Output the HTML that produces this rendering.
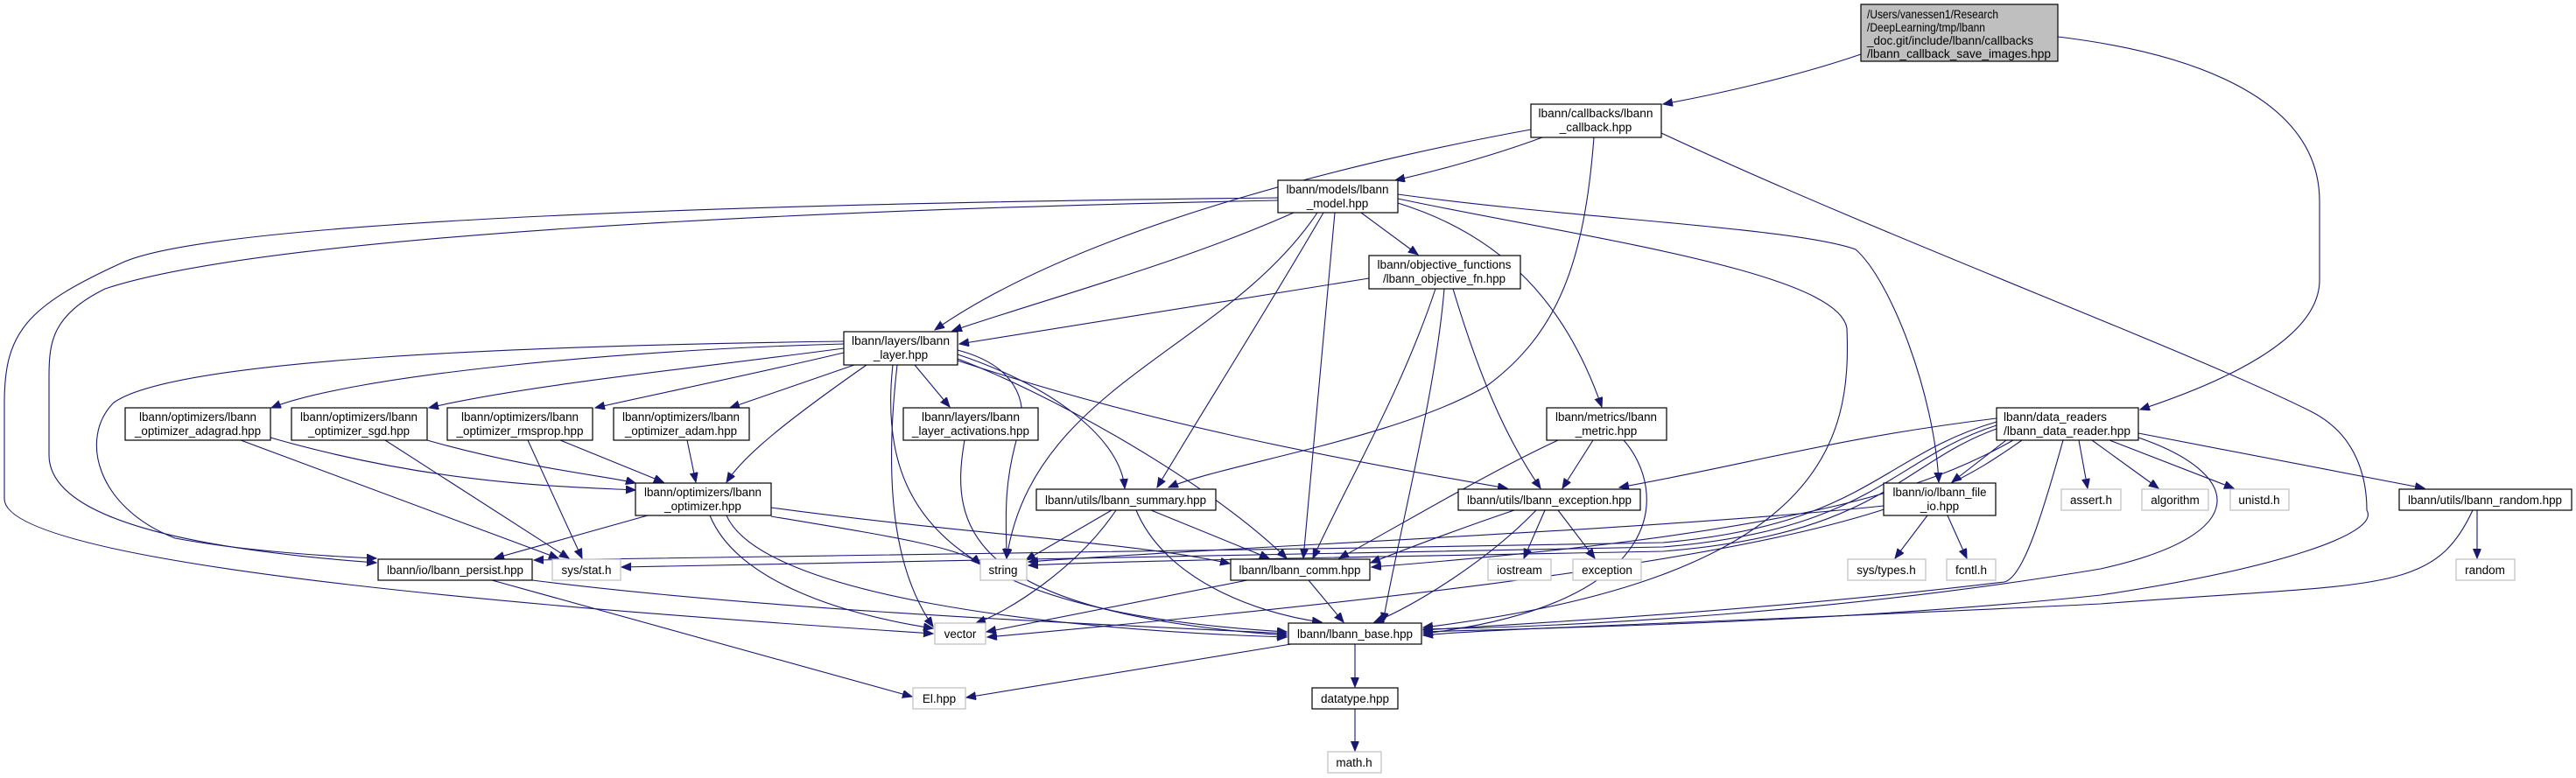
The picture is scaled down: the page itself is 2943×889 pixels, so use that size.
<!DOCTYPE html>
<html><head><meta charset="utf-8"><style>
html,body{margin:0;padding:0;background:#fff;}
svg{display:block;}
text{font-family:"Liberation Sans",Arial,sans-serif;font-size:13.5px;fill:#000;}
.n{fill:#fff;stroke:#000;stroke-width:1.2;}
.g{fill:#fff;stroke:#bfbfbf;stroke-width:1.2;}
.e{fill:none;stroke:#191970;stroke-width:1.1;marker-end:url(#a);}
</style></head><body>
<svg width="2943" height="889" viewBox="0 0 2943 889" xmlns="http://www.w3.org/2000/svg">
<defs><marker id="a" markerUnits="userSpaceOnUse" markerWidth="12" markerHeight="10" refX="11" refY="4.5" orient="auto"><path d="M0,0 L11,4.5 L0,9 Z" fill="#191970" stroke="#191970"/></marker></defs>
<g>
<path class="e" d="M2126,62 C2050,88 1960,108 1900,119"/>
<path class="e" d="M2351,42 C2500,60 2650,110 2650,230 L2650,320 C2650,390 2530,440 2445,468"/>
<path class="e" d="M1762,157 C1700,180 1630,198 1594,206"/>
<path class="e" d="M1749,148 C1600,175 1250,250 1068,377"/>
<path class="e" d="M1821,157 C1810,300 1780,380 1700,440 C1600,500 1400,530 1335,557"/>
<path class="e" d="M1898,152 C2150,270 2500,400 2640,470 C2700,500 2704,560 2704,583 C2720,610 2600,650 2400,680 C2100,712 1750,718 1626,722"/>
<path class="e" d="M1478,243 C1350,300 1200,340 1088,378"/>
<path class="e" d="M1555,243 L1620,291"/>
<path class="e" d="M1597,232 C1720,270 1790,350 1830,465"/>
<path class="e" d="M1597,222 C1800,250 2050,260 2120,285 C2160,320 2210,450 2215,551"/>
<path class="e" d="M1597,227 C1800,270 2100,310 2110,375 C2115,500 2090,660 1626,717"/>
<path class="e" d="M1525,243 L1489,638"/>
<path class="e" d="M1512,243 C1450,350 1380,460 1322,557"/>
<path class="e" d="M1505,243 C1400,400 1180,440 1150,638"/>
<path class="e" d="M1460,226 C900,232 250,250 140,300 C30,350 5,380 5,460 L5,570 C5,650 700,700 1066,724"/>
<path class="e" d="M1460,229 C900,240 300,270 120,330 C60,360 56,390 56,430 L56,520 C56,600 250,630 430,643"/>
<path class="e" d="M1564,318 L1096,393"/>
<path class="e" d="M1640,330 C1600,450 1540,550 1500,638"/>
<path class="e" d="M1650,330 C1640,450 1600,600 1580,711"/>
<path class="e" d="M1660,330 C1690,430 1720,500 1760,558"/>
<path class="e" d="M964,393 C700,400 400,430 310,466"/>
<path class="e" d="M964,398 C800,420 600,440 490,466"/>
<path class="e" d="M964,403 C850,430 750,450 680,466"/>
<path class="e" d="M976,417 L834,466"/>
<path class="e" d="M990,417 C900,480 850,520 830,551"/>
<path class="e" d="M964,390 C600,395 200,410 130,460 C90,500 110,580 200,615 C280,630 380,636 430,638"/>
<path class="e" d="M1045,417 L1085,465"/>
<path class="e" d="M1094,405 C1200,440 1280,500 1285,558"/>
<path class="e" d="M1094,400 C1170,420 1175,470 1162,500 C1145,560 1150,600 1150,638"/>
<path class="e" d="M1025,417 C1010,550 1020,650 1066,716"/>
<path class="e" d="M1020,417 C1000,600 1100,700 1470,722"/>
<path class="e" d="M1094,410 C1200,450 1380,550 1470,638"/>
<path class="e" d="M1094,412 C1300,480 1500,520 1722,558"/>
<path class="e" d="M309,500 C500,555 650,556 726,560"/>
<path class="e" d="M275,503 L638,638"/>
<path class="e" d="M488,503 C600,535 700,545 726,552"/>
<path class="e" d="M440,503 L650,638"/>
<path class="e" d="M640,503 L758,551"/>
<path class="e" d="M603,503 L665,638"/>
<path class="e" d="M785,503 L795,551"/>
<path class="e" d="M740,589 L565,638"/>
<path class="e" d="M881,580 C1100,610 1300,620 1405,644"/>
<path class="e" d="M881,590 C1000,610 1100,625 1120,645"/>
<path class="e" d="M811,589 C840,660 950,700 1066,718"/>
<path class="e" d="M830,589 C870,680 1200,720 1470,728"/>
<path class="e" d="M608,663 C900,700 1300,715 1470,724"/>
<path class="e" d="M562,663 L1042,796"/>
<path class="e" d="M1102,503 C1085,600 1100,700 1470,726"/>
<path class="e" d="M1270,583 L1172,640"/>
<path class="e" d="M1315,583 L1450,638"/>
<path class="e" d="M1275,583 C1230,650 1150,700 1115,712"/>
<path class="e" d="M1298,583 C1330,660 1430,700 1510,711"/>
<path class="e" d="M1780,503 C1700,540 1600,600 1530,638"/>
<path class="e" d="M1820,503 L1785,558"/>
<path class="e" d="M1855,503 C1905,560 1910,690 1626,724"/>
<path class="e" d="M1730,583 C1650,610 1600,630 1566,643"/>
<path class="e" d="M1765,583 L1741,638"/>
<path class="e" d="M1780,583 L1822,638"/>
<path class="e" d="M1755,583 C1700,640 1620,690 1570,711"/>
<path class="e" d="M1425,663 L1127,722"/>
<path class="e" d="M1495,663 L1535,711"/>
<path class="e" d="M1475,736 L1104,797"/>
<path class="e" d="M1548,736 L1548,785"/>
<path class="e" d="M1548,810 L1548,858"/>
<path class="e" d="M2281,478 C2100,500 2000,530 1850,557"/>
<path class="e" d="M2292,503 L2230,551"/>
<path class="e" d="M2375,503 L2385,558"/>
<path class="e" d="M2390,503 L2466,558"/>
<path class="e" d="M2410,503 L2552,558"/>
<path class="e" d="M2443,495 L2770,558"/>
<path class="e" d="M2281,482 C2150,520 2130,600 1900,620 C1400,630 800,636 610,640"/>
<path class="e" d="M2281,486 C2160,525 2140,605 1900,625 C1400,636 900,644 710,648"/>
<path class="e" d="M2281,490 C2170,530 2150,610 1900,630 C1600,636 1300,640 1175,646"/>
<path class="e" d="M2300,503 C2200,560 2050,610 1567,648"/>
<path class="e" d="M2310,503 C2200,580 2100,640 1128,728"/>
<path class="e" d="M2357,503 C2330,600 2310,660 2290,665 C2000,700 1700,715 1626,720"/>
<path class="e" d="M2443,500 C2560,540 2580,610 2400,650 C2100,700 1800,716 1626,719"/>
<path class="e" d="M2202,589 L2165,638"/>
<path class="e" d="M2225,589 L2247,638"/>
<path class="e" d="M2152,578 C1900,605 1400,625 1175,642"/>
<path class="e" d="M2830,583 L2830,638"/>
<path class="e" d="M2825,583 C2780,680 2720,665 2400,690 C2000,710 1700,718 1626,726"/>
</g>
<g>
<rect x="2126" y="5" width="225" height="65" fill="#bfbfbf" stroke="#000" stroke-width="1.2"/>
<text x="2133" y="21" textLength="150" lengthAdjust="spacingAndGlyphs">/Users/vanessen1/Research</text>
<text x="2133" y="36" textLength="135" lengthAdjust="spacingAndGlyphs">/DeepLearning/tmp/lbann</text>
<text x="2133" y="51" textLength="190" lengthAdjust="spacingAndGlyphs">_doc.git/include/lbann/callbacks</text>
<text x="2133" y="66" textLength="210" lengthAdjust="spacingAndGlyphs">/lbann_callback_save_images.hpp</text>

<rect class="n" x="1749" y="119" width="149" height="38"/>
<text x="1823" y="134" text-anchor="middle" textLength="131" lengthAdjust="spacingAndGlyphs">lbann/callbacks/lbann</text>
<text x="1823" y="150" text-anchor="middle">_callback.hpp</text>

<rect class="n" x="1460" y="206" width="137" height="37"/>
<text x="1528" y="221" text-anchor="middle" textLength="117" lengthAdjust="spacingAndGlyphs">lbann/models/lbann</text>
<text x="1528" y="237" text-anchor="middle">_model.hpp</text>

<rect class="n" x="1564" y="292" width="173" height="38"/>
<text x="1650" y="307" text-anchor="middle" textLength="153" lengthAdjust="spacingAndGlyphs">lbann/objective_functions</text>
<text x="1650" y="323" text-anchor="middle" textLength="140" lengthAdjust="spacingAndGlyphs">/lbann_objective_fn.hpp</text>

<rect class="n" x="964" y="379" width="130" height="38"/>
<text x="1029" y="394" text-anchor="middle" textLength="112" lengthAdjust="spacingAndGlyphs">lbann/layers/lbann</text>
<text x="1029" y="410" text-anchor="middle">_layer.hpp</text>

<rect class="n" x="143" y="466" width="166" height="37"/>
<text x="226" y="481" text-anchor="middle" textLength="134" lengthAdjust="spacingAndGlyphs">lbann/optimizers/lbann</text>
<text x="226" y="497" text-anchor="middle" textLength="144" lengthAdjust="spacingAndGlyphs">_optimizer_adagrad.hpp</text>

<rect class="n" x="333" y="466" width="155" height="37"/>
<text x="410" y="481" text-anchor="middle" textLength="134" lengthAdjust="spacingAndGlyphs">lbann/optimizers/lbann</text>
<text x="410" y="497" text-anchor="middle" textLength="116" lengthAdjust="spacingAndGlyphs">_optimizer_sgd.hpp</text>

<rect class="n" x="511" y="466" width="166" height="37"/>
<text x="594" y="481" text-anchor="middle" textLength="134" lengthAdjust="spacingAndGlyphs">lbann/optimizers/lbann</text>
<text x="594" y="497" text-anchor="middle" textLength="145" lengthAdjust="spacingAndGlyphs">_optimizer_rmsprop.hpp</text>

<rect class="n" x="701" y="466" width="155" height="37"/>
<text x="778" y="481" text-anchor="middle" textLength="134" lengthAdjust="spacingAndGlyphs">lbann/optimizers/lbann</text>
<text x="778" y="497" text-anchor="middle" textLength="128" lengthAdjust="spacingAndGlyphs">_optimizer_adam.hpp</text>

<rect class="n" x="1032" y="466" width="154" height="37"/>
<text x="1109" y="481" text-anchor="middle" textLength="112" lengthAdjust="spacingAndGlyphs">lbann/layers/lbann</text>
<text x="1109" y="497" text-anchor="middle" textLength="134" lengthAdjust="spacingAndGlyphs">_layer_activations.hpp</text>

<rect class="n" x="1767" y="466" width="137" height="37"/>
<text x="1835" y="481" text-anchor="middle" textLength="116" lengthAdjust="spacingAndGlyphs">lbann/metrics/lbann</text>
<text x="1835" y="497" text-anchor="middle">_metric.hpp</text>

<rect class="n" x="2281" y="466" width="162" height="37"/>
<text x="2289" y="481" textLength="118" lengthAdjust="spacingAndGlyphs">lbann/data_readers</text>
<text x="2289" y="497" textLength="145" lengthAdjust="spacingAndGlyphs">/lbann_data_reader.hpp</text>

<rect class="n" x="726" y="552" width="155" height="37"/>
<text x="803" y="567" text-anchor="middle" textLength="134" lengthAdjust="spacingAndGlyphs">lbann/optimizers/lbann</text>
<text x="803" y="583" text-anchor="middle">_optimizer.hpp</text>

<rect class="n" x="2152" y="552" width="128" height="37"/>
<text x="2216" y="567" text-anchor="middle" textLength="107" lengthAdjust="spacingAndGlyphs">lbann/io/lbann_file</text>
<text x="2216" y="583" text-anchor="middle">_io.hpp</text>

<rect class="n" x="1184" y="559" width="205" height="24"/>
<text x="1286" y="576" text-anchor="middle" textLength="184" lengthAdjust="spacingAndGlyphs">lbann/utils/lbann_summary.hpp</text>
<rect class="n" x="1666" y="559" width="208" height="24"/>
<text x="1770" y="576" text-anchor="middle" textLength="188" lengthAdjust="spacingAndGlyphs">lbann/utils/lbann_exception.hpp</text>
<rect class="g" x="2355" y="559" width="68" height="24"/><text x="2389" y="576" text-anchor="middle">assert.h</text>
<rect class="g" x="2447" y="559" width="76" height="24"/><text x="2485" y="576" text-anchor="middle">algorithm</text>
<rect class="g" x="2548" y="559" width="67" height="24"/><text x="2581" y="576" text-anchor="middle">unistd.h</text>
<rect class="n" x="2741" y="559" width="197" height="24"/>
<text x="2839" y="576" text-anchor="middle" textLength="176" lengthAdjust="spacingAndGlyphs">lbann/utils/lbann_random.hpp</text>

<rect class="n" x="432" y="639" width="176" height="24"/>
<text x="520" y="656" text-anchor="middle" textLength="156" lengthAdjust="spacingAndGlyphs">lbann/io/lbann_persist.hpp</text>
<rect class="g" x="631" y="639" width="78" height="24"/><text x="670" y="656" text-anchor="middle">sys/stat.h</text>
<rect class="g" x="1120" y="639" width="53" height="24"/><text x="1146" y="656" text-anchor="middle">string</text>
<rect class="n" x="1406" y="639" width="159" height="24"/>
<text x="1485" y="656" text-anchor="middle" textLength="139" lengthAdjust="spacingAndGlyphs">lbann/lbann_comm.hpp</text>
<rect class="g" x="1700" y="639" width="72" height="24"/><text x="1736" y="656" text-anchor="middle">iostream</text>
<rect class="g" x="1797" y="639" width="78" height="24"/><text x="1836" y="656" text-anchor="middle">exception</text>
<rect class="g" x="2111" y="639" width="89" height="24"/><text x="2155" y="656" text-anchor="middle">sys/types.h</text>
<rect class="g" x="2224" y="639" width="56" height="24"/><text x="2252" y="656" text-anchor="middle">fcntl.h</text>
<rect class="g" x="2806" y="639" width="67" height="24"/><text x="2839" y="656" text-anchor="middle">random</text>

<rect class="g" x="1068" y="712" width="58" height="24"/><text x="1097" y="729" text-anchor="middle">vector</text>
<rect class="n" x="1472" y="712" width="152" height="24"/>
<text x="1548" y="729" text-anchor="middle" textLength="132" lengthAdjust="spacingAndGlyphs">lbann/lbann_base.hpp</text>
<rect class="g" x="1043" y="786" width="60" height="24"/><text x="1073" y="803" text-anchor="middle">El.hpp</text>
<rect class="n" x="1499" y="786" width="98" height="24"/><text x="1548" y="803" text-anchor="middle">datatype.hpp</text>
<rect class="g" x="1517" y="859" width="61" height="24"/><text x="1547" y="876" text-anchor="middle">math.h</text>
</g>
</svg>
</body></html>
